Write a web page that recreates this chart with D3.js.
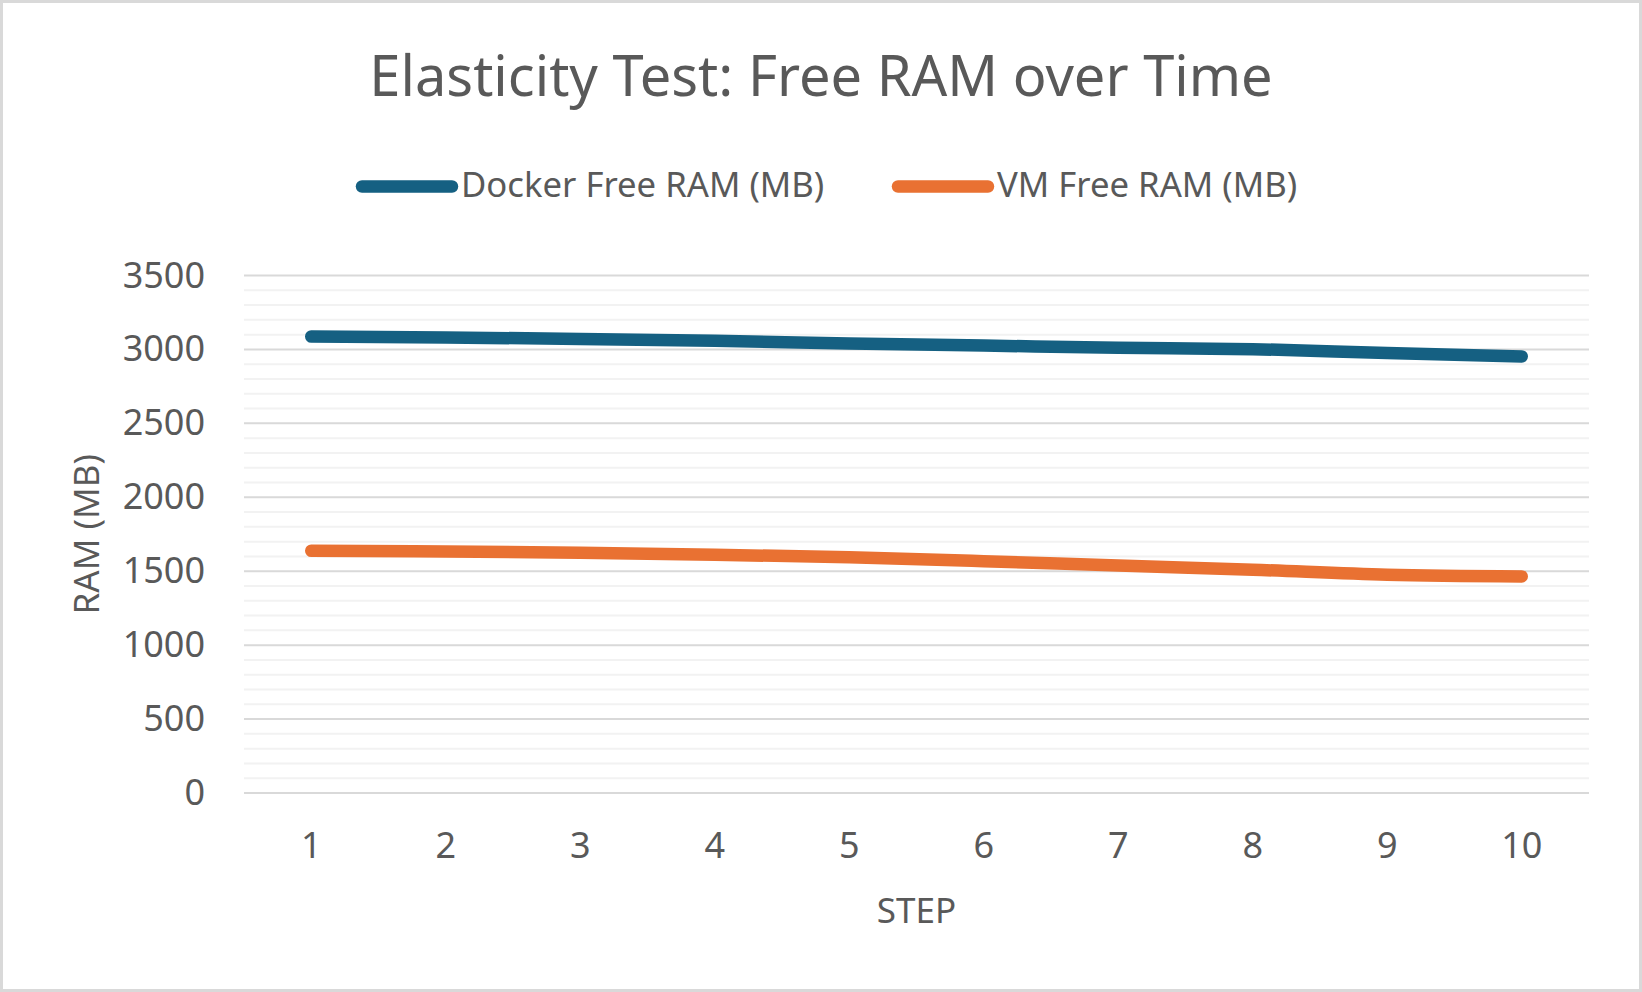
<!DOCTYPE html>
<html>
<head>
<meta charset="utf-8">
<title>Elasticity Test: Free RAM over Time</title>
<script src="https://cdn.jsdelivr.net/npm/d3@7"></script>
<style>
	html, body { margin: 0; padding: 0; background: #ffffff; }
	svg { display: block; }
	text { font-family: "Noto Sans", "Open Sans", sans-serif; fill: #595959; }
</style>
</head>
<body>
<div id="chart"></div>
<script>
// chart values
var steps = [1, 2, 3, 4, 5, 6, 7, 8, 9, 10];
var docker_ram = [3087, 3081, 3071, 3059, 3040, 3026, 3012, 3002, 2976, 2953];
var vm_ram = [1638, 1633, 1625, 1612, 1594, 1568, 1538, 1510, 1476, 1465];
var y_ticks = [0, 500, 1000, 1500, 2000, 2500, 3000, 3500];
var series_names = ["Docker Free RAM (MB)", "VM Free RAM (MB)"];
var series_colors = ["#156082", "#e97132"];

var width = 1642, height = 992;
var plot = {left: 244, right: 1589, top: 275.5, bottom: 793};

var svg = d3.select("#chart").append("svg")
	.attr("width", width)
	.attr("height", height);

// background and thin frame
svg.append("rect")
	.attr("x", 1.5).attr("y", 1.5)
	.attr("width", width - 3).attr("height", height - 3)
	.attr("fill", "#ffffff")
	.attr("stroke", "#d9d9d9")
	.attr("stroke-width", 3);

// ### scales
var x = d3.scaleBand().domain(steps).range([plot.left, plot.right]);
var y = d3.scaleLinear().domain([0, 3500]).range([plot.bottom, plot.top]);
var cx = function(d){ return x(d) + x.bandwidth() / 2; };

// ### gridlines: light minor lines every 100, darker major lines every 500
var grid = svg.append("g").attr("class", "grid");
grid.selectAll(".minor").data(y.ticks(35).filter(function(t){ return t % 500 !== 0; }))
	.enter().append("line")
	.attr("class", "minor")
	.attr("x1", plot.left).attr("x2", plot.right)
	.attr("y1", y).attr("y2", y)
	.attr("stroke", "#f2f2f2")
	.attr("stroke-width", 2);
grid.selectAll(".major").data(y_ticks)
	.enter().append("line")
	.attr("class", "major")
	.attr("x1", plot.left).attr("x2", plot.right)
	.attr("y1", y).attr("y2", y)
	.attr("stroke", "#d9d9d9")
	.attr("stroke-width", 2);

// ### axes
var y_axis = svg.append("g")
	.attr("transform", "translate(" + plot.left + ",0)")
	.call(d3.axisLeft(y).tickValues(y_ticks).tickFormat(d3.format("d")).tickSize(0).tickPadding(39));
var x_axis = svg.append("g")
	.attr("transform", "translate(0," + plot.bottom + ")")
	.call(d3.axisBottom(x).tickSize(0).tickPadding(39));
[y_axis, x_axis].forEach(function(a){
	a.select(".domain").remove();
	a.selectAll("text")
		.style("font-family", "'Noto Sans', sans-serif")
		.style("font-size", "36px")
		.attr("fill", "#595959");
});

// axis titles
svg.append("text")
	.attr("x", (plot.left + plot.right) / 2)
	.attr("y", 923)
	.attr("text-anchor", "middle")
	.style("font-size", "35px")
	.text("STEP");
svg.append("text")
	.attr("transform", "translate(99," + (plot.top + plot.bottom) / 2 + ") rotate(-90)")
	.attr("text-anchor", "middle")
	.style("font-size", "35px")
	.text("RAM (MB)");

// ### series lines
var line = d3.line()
	.x(function(d){ return cx(d[0]); })
	.y(function(d){ return y(d[1]); })
	.curve(d3.curveMonotoneX);

[docker_ram, vm_ram].forEach(function(values, i){
	svg.append("path")
		.datum(d3.zip(steps, values))
		.attr("d", line)
		.attr("fill", "none")
		.attr("stroke", series_colors[i])
		.attr("stroke-width", 12.5)
		.attr("stroke-linecap", "round")
		.attr("stroke-linejoin", "round");
});

// ### title
svg.append("text")
	.attr("x", width / 2)
	.attr("y", 96)
	.attr("text-anchor", "middle")
	.style("font-size", "56px")
	.text("Elasticity Test: Free RAM over Time");

// ### legend
var legend_x = [362, 898];
var legend = svg.selectAll(".legend").data(series_names).enter().append("g")
	.attr("class", "legend")
	.attr("transform", function(d, i){ return "translate(" + legend_x[i] + ",186.5)"; });
legend.append("line")
	.attr("x1", 0).attr("x2", 90)
	.attr("stroke", function(d, i){ return series_colors[i]; })
	.attr("stroke-width", 12.5)
	.attr("stroke-linecap", "round");
legend.append("text")
	.attr("x", 99)
	.attr("y", 10)
	.style("font-size", "34.7px")
	.text(function(d){ return d; });
</script>
</body>
</html>
